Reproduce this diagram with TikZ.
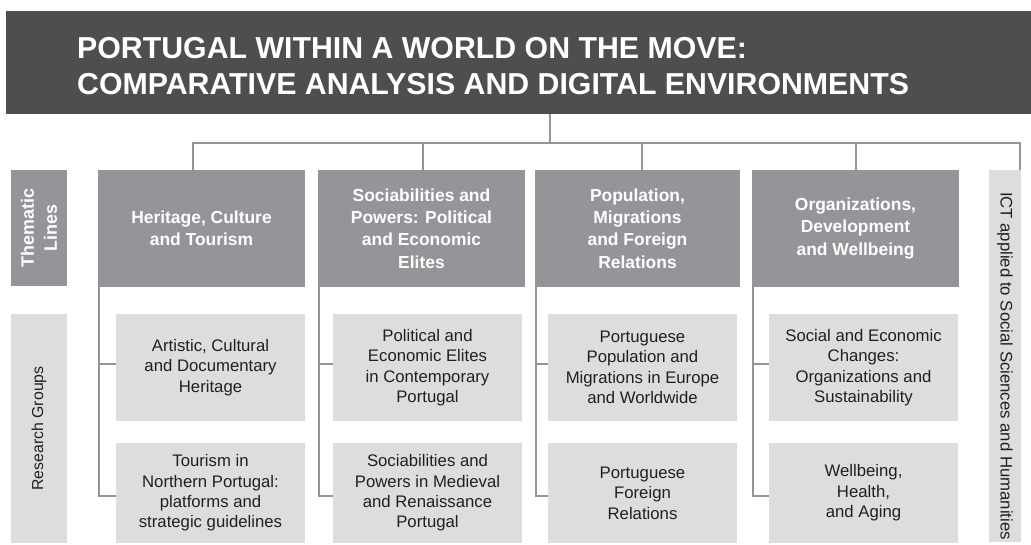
\documentclass[tikz,border=0pt]{standalone}
\usepackage{fontspec}
\setmainfont{Liberation Sans}
\definecolor{dark}{HTML}{4D4E50}
\definecolor{mid}{HTML}{939598}
\definecolor{light}{HTML}{DCDDDE}
\definecolor{txt}{HTML}{231F20}
\begin{document}
\begin{tikzpicture}[x=1bp,y=-1bp,
  box/.style={inner sep=0pt, outer sep=0pt, anchor=north west},
  theme/.style={box, fill=mid, text=white, font=\bfseries\fontsize{17.5}{22.5}\selectfont, align=center, minimum height=117bp},
  sub/.style={box, fill=light, text=txt, font=\fontsize{16.8}{20.5}\selectfont, align=center, minimum width=189bp},
  conn/.style={draw=mid, line width=2bp},
  vlabel/.style={inner sep=0pt, align=center}]
\useasboundingbox (0,0) rectangle (1031,545);
% banner
\node[box, fill=dark, minimum width=1025bp, minimum height=103bp] (banner) at (6,11) {};
\node[anchor=west, inner sep=0pt, text=white, align=left, font=\bfseries\fontsize{30.4}{36}\selectfont] (title) at (77,66)
  {PORTUGAL WITHIN A WORLD ON THE MOVE:\\COMPARATIVE ANALYSIS AND DIGITAL ENVIRONMENTS};
% side labels
\node[box, fill=mid, minimum width=56bp, minimum height=116bp] (thl) at (11,170) {};
\node[vlabel, rotate=90, text=white, font=\bfseries\fontsize{18}{23}\selectfont] (thltext) at (thl.center) {Thematic\\Lines};
\node[box, fill=light, minimum width=56bp, minimum height=229bp] (rg) at (11,314) {};
\node[vlabel, rotate=90, text=txt, font=\fontsize{15.9}{17}\selectfont] (rgtext) at (rg.center) {Research Groups};
\node[box, fill=light, minimum width=32bp, minimum height=372bp] (ict) at (989,170) {};
\node[vlabel, rotate=-90, text=txt, font=\fontsize{16.8}{17}\selectfont] (icttext) at ([yshift=-10bp]ict.center) {ICT applied to Social Sciences and Humanities};
% thematic lines
\node[theme, minimum width=207bp] (t1) at (98,170) {Heritage, Culture\\and Tourism};
\node[theme, minimum width=207bp] (t2) at (318,170) {Sociabilities and\\Powers: Political\\and Economic\\Elites};
\node[theme, minimum width=205bp] (t3) at (535,170) {Population,\\Migrations\\and Foreign\\Relations};
\node[theme, minimum width=207bp] (t4) at (752,170) {Organizations,\\Development\\and Wellbeing};
% research groups
\node[sub, minimum height=107bp] (s11) at (116,314) {Artistic, Cultural\\and Documentary\\Heritage};
\node[sub, minimum height=100bp] (s12) at (116,443) {Tourism in\\Northern Portugal:\\platforms and\\strategic guidelines};
\node[sub, minimum height=107bp] (s21) at (333,314) {Political and\\Economic Elites\\in Contemporary\\Portugal};
\node[sub, minimum height=100bp] (s22) at (333,443) {Sociabilities and\\Powers in Medieval\\and Renaissance\\Portugal};
\node[sub, minimum height=107bp] (s31) at (548,314) {Portuguese\\Population and\\Migrations in Europe\\and Worldwide};
\node[sub, minimum height=100bp] (s32) at (548,443) {Portuguese\\Foreign\\Relations};
\node[sub, minimum height=107bp] (s41) at (769,314) {Social and Economic\\Changes:\\Organizations and\\Sustainability};
\node[sub, minimum height=100bp] (s42) at (769,443) {Wellbeing,\\Health,\\and Aging};
% connectors
\coordinate (hub) at (550,143);
\coordinate (d1) at ([xshift=-9bp]t1.north);
\coordinate (d2) at ([xshift=1bp]t2.north);
\coordinate (d3) at ([xshift=4bp]t3.north);
\coordinate (d4) at (t4.north);
\coordinate (d5) at ([xshift=-1bp]ict.north east);
\draw[conn] (banner.south -| hub) -- (hub);
\draw[conn] (d1) |- (hub) -| (d5);
\foreach \d in {d2,d3,d4} {\draw[conn] (\d |- hub) -- (\d);}
\foreach \c in {1,2,3,4} {
  \draw[conn] ([xshift=1bp]t\c.south west) |- ([yshift=4bp]s\c1.west);
  \draw[conn] ([xshift=1bp]t\c.south west) |- ([yshift=-3bp]s\c2.west);
}
\end{tikzpicture}
\end{document}
